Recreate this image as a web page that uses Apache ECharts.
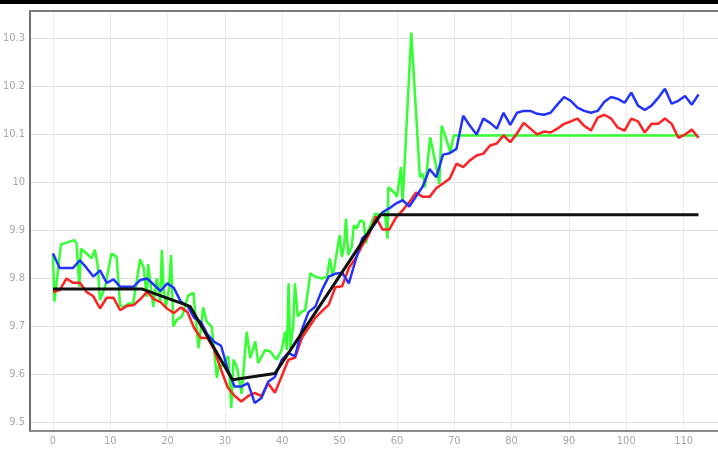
<!DOCTYPE html>
<html>
<head>
<meta charset="utf-8">
<script src="https://cdn.jsdelivr.net/npm/echarts@6/dist/echarts.min.js"></script>
<style>
html,body{margin:0;padding:0;background:#fff;}
#chart{width:718px;height:450px;}
</style>
</head>
<body>
<div id="chart"></div>
<script>
// ---- data ----
const SAMPLE_STEP = 1.173; // x distance between samples of the blue/red series

const blueValues = [
  9.852, 9.822, 9.822, 9.822, 9.838, 9.822, 9.804, 9.817, 9.791, 9.798,
  9.783, 9.783, 9.783, 9.797, 9.800, 9.787, 9.774, 9.790, 9.780, 9.752,
  9.743, 9.718, 9.710, 9.683, 9.668, 9.660, 9.610, 9.575, 9.575, 9.582,
  9.541, 9.551, 9.585, 9.595, 9.630, 9.645, 9.638, 9.693, 9.730, 9.741,
  9.776, 9.804, 9.810, 9.812, 9.790, 9.838, 9.884, 9.896, 9.917, 9.938,
  9.946, 9.956, 9.963, 9.950, 9.971, 9.992, 10.028, 10.011, 10.058, 10.061,
  10.070, 10.139, 10.118, 10.100, 10.133, 10.124, 10.112, 10.145, 10.120, 10.145,
  10.149, 10.149, 10.143, 10.141, 10.145, 10.162, 10.178, 10.170, 10.156, 10.149,
  10.145, 10.149, 10.168, 10.178, 10.174, 10.166, 10.187, 10.160, 10.151, 10.160,
  10.176, 10.195, 10.164, 10.170, 10.180, 10.162, 10.183
];

const redValues = [
  9.772, 9.776, 9.800, 9.791, 9.791, 9.772, 9.763, 9.738, 9.760, 9.760,
  9.734, 9.743, 9.745, 9.757, 9.772, 9.757, 9.751, 9.737, 9.728, 9.740,
  9.730, 9.697, 9.676, 9.676, 9.651, 9.610, 9.573, 9.556, 9.544, 9.555,
  9.562, 9.555, 9.582, 9.562, 9.596, 9.631, 9.635, 9.676, 9.697, 9.718,
  9.732, 9.745, 9.782, 9.784, 9.822, 9.842, 9.869, 9.892, 9.929, 9.902,
  9.902, 9.927, 9.942, 9.959, 9.979, 9.970, 9.970, 9.988, 9.998, 10.008,
  10.039, 10.032, 10.046, 10.056, 10.060, 10.077, 10.081, 10.098, 10.084, 10.102,
  10.124, 10.112, 10.100, 10.106, 10.104, 10.112, 10.122, 10.127, 10.133, 10.118,
  10.108, 10.135, 10.141, 10.133, 10.114, 10.108, 10.133, 10.127, 10.104, 10.122,
  10.122, 10.133, 10.122, 10.093, 10.100, 10.110, 10.093
];

// green (raw) series: sample positions and values
const greenX = [
  0, 0.25, 1.4, 3.7, 4.1, 4.6, 4.9, 5.9, 6.75, 7.3,
  7.8, 8.2, 9.1, 10.2, 11.1, 11.7, 12.3, 13.2, 14.0, 15.2,
  15.8, 16.35, 16.6, 17.5, 18.1, 18.7, 19.0, 19.3, 19.7, 20.2,
  20.6, 21.0, 21.6, 22.5, 23.6, 24.5, 25.4, 26.2, 26.8, 27.7,
  28.6, 29.0, 29.4, 30.6, 31.1, 31.5, 32.1, 32.9, 33.8, 34.4,
  35.3, 35.8, 37.0, 37.9, 39.0, 39.9, 40.5, 40.8, 41.1, 41.4,
  41.9, 42.2, 42.7, 43.4, 44.0, 44.9, 45.7, 46.9, 47.8, 48.3,
  48.8, 49.2, 50.0, 50.4, 50.8, 51.1, 51.5, 52.1, 52.5, 53.0,
  53.6, 54.2, 54.6, 55.0, 56.2, 57.1, 57.9, 58.35, 58.5, 59.7,
  60.0, 60.7, 61.0, 62.5, 64.0, 64.5, 64.9, 65.8, 66.7, 67.4,
  67.8, 68.4, 69.3, 69.9, 112.6
];
const greenValues = [
  9.852, 9.752, 9.871, 9.880, 9.874, 9.783, 9.862, 9.852, 9.842, 9.860,
  9.828, 9.755, 9.783, 9.852, 9.845, 9.745, 9.740, 9.748, 9.748, 9.840,
  9.824, 9.762, 9.830, 9.741, 9.800, 9.752, 9.860, 9.779, 9.741, 9.776,
  9.849, 9.700, 9.714, 9.721, 9.765, 9.770, 9.655, 9.740, 9.710, 9.700,
  9.593, 9.624, 9.617, 9.638, 9.530, 9.631, 9.615, 9.560, 9.689, 9.634,
  9.669, 9.624, 9.651, 9.648, 9.631, 9.651, 9.689, 9.651, 9.790, 9.655,
  9.700, 9.790, 9.721, 9.731, 9.734, 9.811, 9.804, 9.800, 9.804, 9.842,
  9.804, 9.831, 9.890, 9.845, 9.869, 9.925, 9.849, 9.866, 9.911, 9.904,
  9.921, 9.918, 9.873, 9.900, 9.935, 9.932, 9.938, 9.883, 9.990, 9.977,
  9.970, 10.032, 9.959, 10.312, 10.011, 10.018, 9.990, 10.094, 10.042, 9.997,
  10.118, 10.098, 10.063, 10.098, 10.098
];

// black (fitted) series: break points
const blackX = [0, 15.6, 23.9, 31.3, 38.7, 57.1, 112.6];
const blackValues = [9.778, 9.778, 9.742, 9.589, 9.602, 9.933, 9.933];

const xRange = [-4, 116];
const yRange = [9.4825, 10.357];

// ---- build ----
const sampleX = blueValues.map((_, k) => +(k * SAMPLE_STEP).toFixed(3));
const zip = (xs, ys) => xs.map((x, i) => [x, ys[i]]);

const labelFont = "'Liberation Sans Narrow', 'DejaVu Sans Condensed', 'Liberation Sans', sans-serif";

const chart = echarts.init(document.getElementById('chart'), null, {renderer: 'canvas'});
chart.setOption({
  animation: false,
  backgroundColor: '#ffffff',
  grid: {left: 30, right: -2, top: 11, bottom: 19, containLabel: false},
  xAxis: [{
    type: 'value', min: xRange[0], max: xRange[1], splitNumber: 12,
    axisLine: {show: true, onZero: false, lineStyle: {color: '#8a8a8a', width: 2}},
    axisTick: {show: false},
    axisLabel: {show: true, showMinLabel: false, showMaxLabel: false, color: '#a8a8a8',
      fontSize: 11, fontFamily: labelFont, margin: 5},
    splitLine: {show: true, lineStyle: {color: '#ebebeb', width: 1}}
  }, {
    type: 'value', position: 'top', min: xRange[0], max: xRange[1],
    axisLine: {show: true, onZero: false, lineStyle: {color: '#7a7a7a', width: 2}},
    axisTick: {show: false}, axisLabel: {show: false}, splitLine: {show: false}
  }],
  yAxis: {
    type: 'value', min: yRange[0], max: yRange[1], splitNumber: 8,
    axisLine: {show: true, onZero: false, lineStyle: {color: '#707070', width: 2}},
    axisTick: {show: false},
    axisLabel: {show: true, showMinLabel: false, showMaxLabel: false, color: '#a8a8a8',
      fontSize: 11, fontFamily: labelFont, margin: 5},
    splitLine: {show: true, lineStyle: {color: '#dedede', width: 1}}
  },
  graphic: [{
    type: 'rect', left: 0, top: 0, shape: {width: 718, height: 4},
    style: {fill: '#000000'}, z: 100
  }],
  series: [
    {name: 'green', type: 'line', data: zip(greenX, greenValues), showSymbol: false,
      lineStyle: {color: '#33ff33', width: 2.5}, itemStyle: {color: '#33ff33'}, z: 2},
    {name: 'red', type: 'line', data: zip(sampleX, redValues), showSymbol: false,
      lineStyle: {color: '#ff2222', width: 2.5}, itemStyle: {color: '#ff2222'}, z: 3},
    {name: 'blue', type: 'line', data: zip(sampleX, blueValues), showSymbol: false,
      lineStyle: {color: '#2233ff', width: 2.5}, itemStyle: {color: '#2233ff'}, z: 4},
    {name: 'black', type: 'line', data: zip(blackX, blackValues), showSymbol: false,
      lineStyle: {color: '#111111', width: 3}, itemStyle: {color: '#111111'}, z: 5}
  ]
});
</script>
</body>
</html>
